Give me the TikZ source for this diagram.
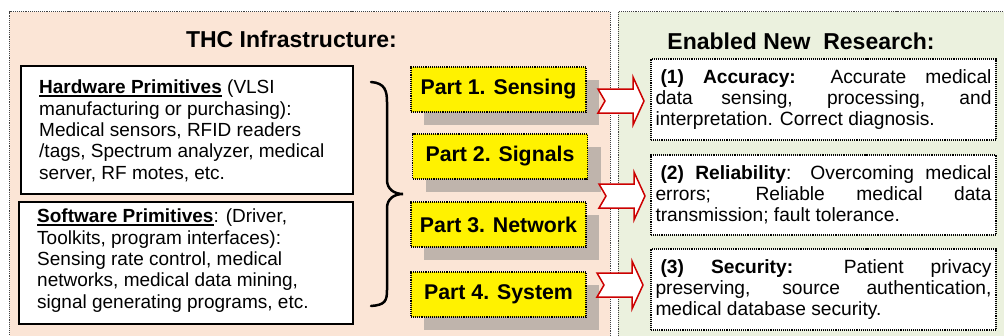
\documentclass[tikz,border=0pt]{standalone}
\usepackage{fontspec}
\setmainfont{Liberation Sans}
\usetikzlibrary{calc}
\definecolor{peachfill}{RGB}{251,229,214}
\definecolor{sagefill}{RGB}{235,241,222}
\definecolor{shadowfill}{RGB}{191,180,172}
\definecolor{arrowline}{RGB}{204,0,0}
% bold heading with a heavy underline
\newcommand\thickul[1]{\sbox0{#1}\rlap{\rule[-3.5bp]{\wd0}{2bp}}\usebox0}

\begin{document}
\begin{tikzpicture}[x=1bp,y=-1bp,
  panel/.style={draw=black!75, densely dotted, line width=1.1bp, anchor=north west, inner sep=0pt},
  primbox/.style={draw=black, line width=1.7bp, fill=white, inner sep=0pt},
  primtext/.style={anchor=north west, align=left, inner sep=0pt, font=\fontsize{19bp}{21.3bp}\selectfont},
  title/.style={anchor=base, inner sep=0pt, font=\fontsize{23bp}{27bp}\selectfont\bfseries},
  shadowbox/.style={fill=shadowfill, minimum width=175bp, minimum height=45bp, inner sep=0pt},
  partbox/.style={draw=black, densely dotted, line width=1.1bp, fill=yellow, minimum width=175bp, minimum height=45bp, inner sep=0pt, font=\fontsize{21.3bp}{25bp}\selectfont\bfseries},
  resbox/.style={draw=black, densely dotted, line width=1.1bp, fill=white, text width=336bp, inner xsep=4.5bp, inner ysep=0pt, minimum height=81bp, align=justify, font=\fontsize{19.2bp}{20.8bp}\selectfont},
  brace/.style={draw=black, line width=2.5bp, line cap=round},
  blockarrow/.style={draw=arrowline, line width=1.5bp, fill=white, line join=miter},
]
\useasboundingbox (0,0) rectangle (1004,335);

% two background panels
\node[panel, fill=peachfill, minimum width=600.5bp, minimum height=340bp] (infra) at (9,11) {};
\node[panel, fill=sagefill, minimum width=400bp, minimum height=340bp] (research) at (617.5,11) {};

% panel titles
\node[title] (infratitle) at (291.5,47) {THC Infrastructure:};
\node[title] (restitle) at (801,49) {Enabled New\ \ Research:};

% hardware / software primitives
\node[primbox, minimum width=332bp, minimum height=128bp] (hw) at (187,130) {};
\node[primtext] (hwtext) at (39,80) {\thickul{\textbf{Hardware Primitives}} (VLSI\\
manufacturing or purchasing):\\
Medical sensors, RFID readers\\
/tags, Spectrum analyzer, medical\\
server, RF motes, etc.};

\node[primbox, minimum width=334bp, minimum height=122bp] (sw) at (186,263) {};
\node[primtext] (swtext) at (37,209) {\thickul{\textbf{Software Primitives}}: (Driver,\\
Toolkits, program interfaces):\\
Sensing rate control, medical\\
networks, medical data mining,\\
signal generating programs, etc.};

% curly brace gathering both kinds of primitives
\draw[brace] (371,82) .. controls (385,83) and (387,91) .. (387,102)
  -- (387,180) .. controls (387,189) and (394,194) .. (403,194)
  .. controls (394,194) and (387,199) .. (387,208)
  -- (387,290) .. controls (387,301) and (385,305) .. (371,306);

% the four parts, each with a drop shadow
\foreach \i/\cx/\cy in {1/498.5/89.5, 2/500/156.5, 3/498.5/224.5, 4/498.5/294.5}{
  \node[shadowbox] (s\i) at (\cx+13,\cy+13) {};
}
\node[partbox] (p1) at (498.5,89.5) {Part 1. Sensing};
\node[partbox] (p2) at (500,156.5) {Part 2. Signals};
\node[partbox] (p3) at (498.5,224.5) {Part 3. Network};
\node[partbox] (p4) at (498.5,294.5) {Part 4. System};

% research outcomes
\node[resbox] (r1) at (823.5,99.5) {\noindent\hspace*{5bp}\textbf{(1) Accuracy:} Accurate medical\linebreak
data sensing, processing, and\linebreak
interpretation. Correct diagnosis.};
\node[resbox, minimum height=80bp] (r2) at (823.5,195) {\noindent\hspace*{5bp}\textbf{(2) Reliability}: Overcoming medical\linebreak
errors; Reliable medical data\linebreak
transmission; fault tolerance.};
\node[resbox] (r3) at (823.5,289.5) {\noindent\hspace*{5bp}\textbf{(3) Security:} Patient privacy\linebreak
preserving, source authentication,\linebreak
medical database security.};

% notched block arrows leading into the outcomes
\coordinate (a1) at (598,101);
\coordinate (a2) at (599,196);
\coordinate (a3) at (597,285);
\foreach \a in {a1,a2,a3}{
  \draw[blockarrow] (\a) ++(0,-12) -- ++(7,12) -- ++(-7,12) -- ++(35,0)
    -- ++(0,12) -- ++(11,-24) -- ++(-11,-24) -- ++(0,12) -- cycle;
}
\end{tikzpicture}
\end{document}
